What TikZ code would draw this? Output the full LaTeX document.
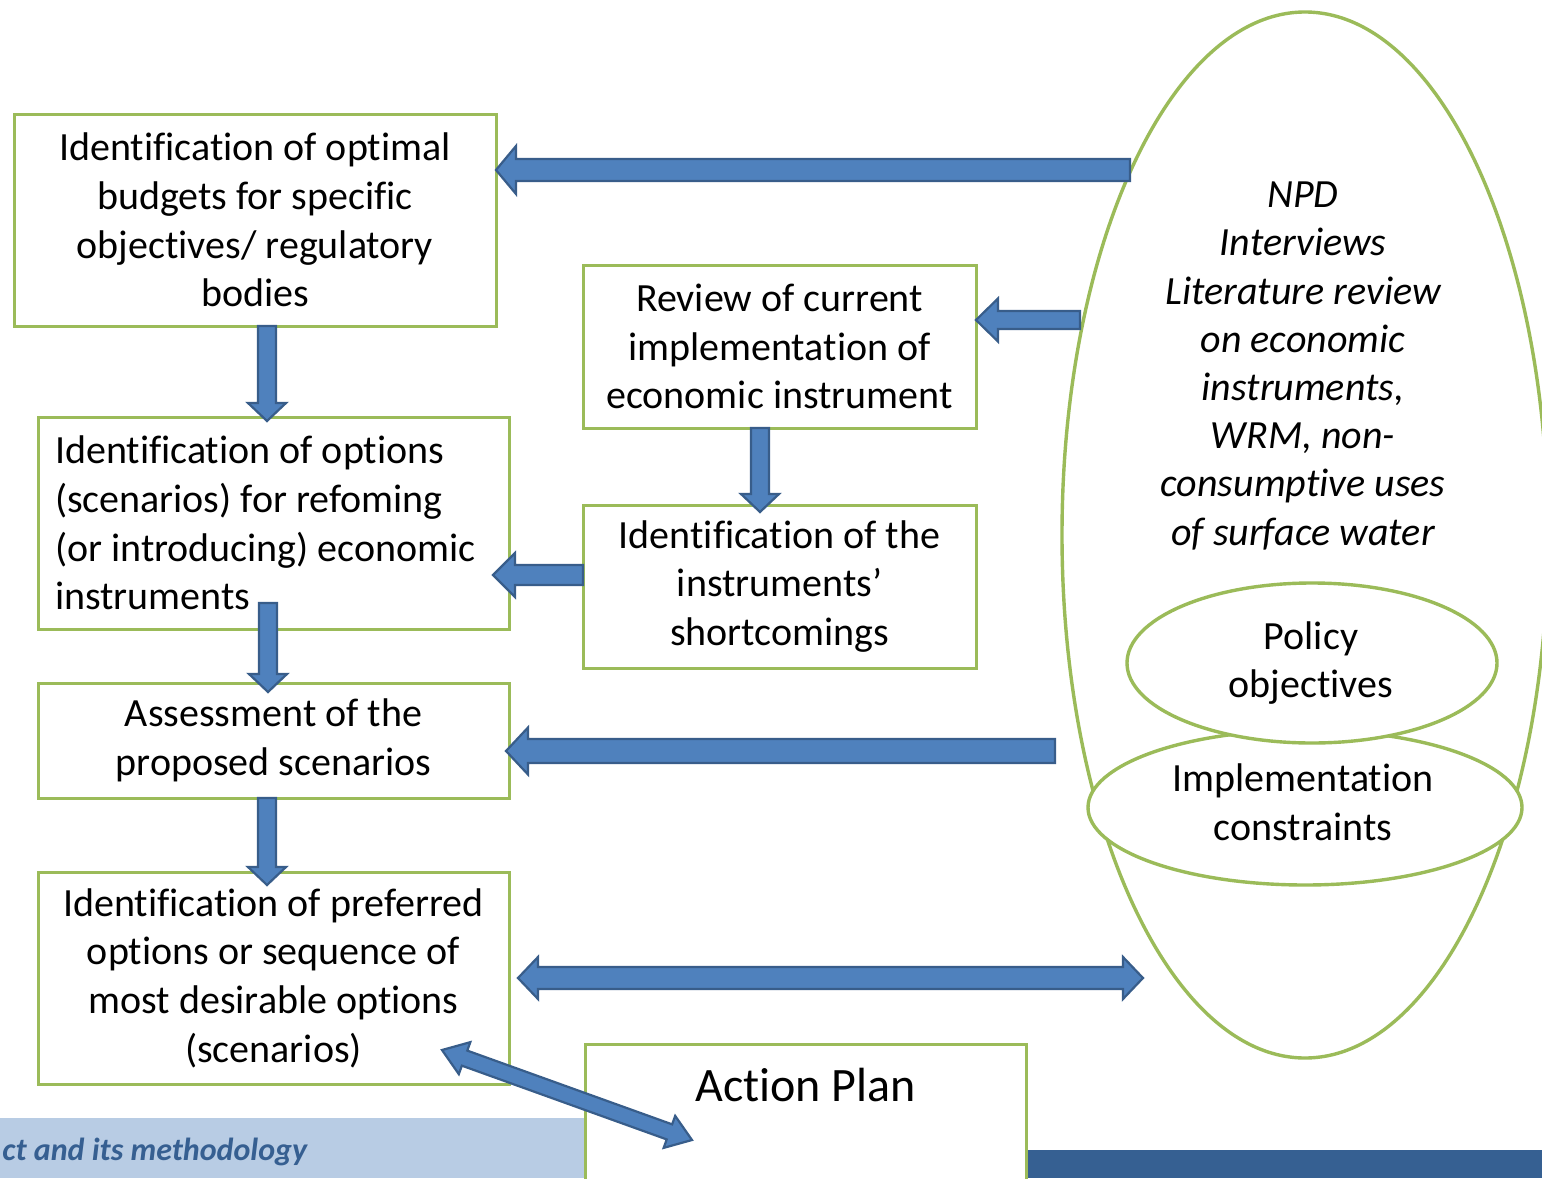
\documentclass[tikz,border=0pt]{standalone}
\usepackage{fontspec}
\setmainfont{Carlito}[Ligatures=NoCommon]
\usetikzlibrary{calc,shapes.geometric}

\definecolor{boxgreen}{HTML}{9BBB59}
\definecolor{arrowfill}{HTML}{4F81BD}
\definecolor{arrowline}{HTML}{385D8A}
\definecolor{barlight}{HTML}{B8CCE4}
\definecolor{bardark}{HTML}{366092}
\definecolor{bartext}{HTML}{365F91}

% block arrow: from, to, shaft half width, head half width, head length
\newcommand\blockarrow[5]{%
  \coordinate (hbB) at ($(#2)!#5!(#1)$);
  \filldraw[blockarrow] ($(#1)!#3!90:(#2)$) -- ($(hbB)!#3!90:(#2)$)
    -- ($(hbB)!#4!90:(#2)$) -- (#2) -- ($(hbB)!#4!-90:(#2)$)
    -- ($(hbB)!#3!-90:(#2)$) -- ($(#1)!#3!-90:(#2)$) -- cycle;}
% double-headed block arrow with the same arguments
\newcommand\doubleblockarrow[5]{%
  \coordinate (hbA) at ($(#1)!#5!(#2)$);
  \coordinate (hbB) at ($(#2)!#5!(#1)$);
  \filldraw[blockarrow] (#1) -- ($(hbA)!#4!90:(#2)$) -- ($(hbA)!#3!90:(#2)$)
    -- ($(hbB)!#3!90:(#2)$) -- ($(hbB)!#4!90:(#2)$) -- (#2)
    -- ($(hbB)!#4!-90:(#2)$) -- ($(hbB)!#3!-90:(#2)$)
    -- ($(hbA)!#3!-90:(#2)$) -- ($(hbA)!#4!-90:(#2)$) -- cycle;}

\begin{document}
\begin{tikzpicture}[x=0.5pt,y=-0.5pt,
  stepbox/.style={draw=boxgreen, line width=1.5pt, fill=white, inner sep=0pt,
    outer sep=0pt, align=center, font=\fontsize{20}{24.3}\selectfont},
  ring/.style={draw=boxgreen, line width=1.7pt, ellipse, inner sep=0pt, outer sep=0pt},
  blockarrow/.style={fill=arrowfill, draw=arrowline, line width=1.1pt, line join=miter}]
\clip (0,0) rectangle (1542,1178);
\fill[white] (0,0) rectangle (1542,1178);

% footer bars
\fill[barlight] (0,1118) rectangle (585,1178);
\fill[bardark] (1026,1150) rectangle (1542,1178);
\node[anchor=west, text=bartext, inner sep=0pt,
  font=\bfseries\itshape\fontsize{16}{19}\selectfont] (footer) at (2,1152) {ct and its methodology};

% sources
\node[ring, minimum width=243pt, minimum height=523pt] (src) at (1305,535) {};
\node[align=center, font=\itshape\fontsize{20}{24.1}\selectfont] (srctext) at (1303,366)
  {NPD\\Interviews\\Literature review\\on economic\\instruments,\\WRM, non-\\consumptive uses\\of surface water};

% process boxes
\node[stepbox, minimum width=241pt, minimum height=106pt] (box1) at (255,220)
  {Identification of optimal\\budgets for specific\\objectives/ regulatory\\bodies};
\node[stepbox, minimum width=235.5pt, minimum height=106pt, text width=218.5pt, align=flush left] (box2) at (273.5,523)
  {Identification of options\\(scenarios) for refoming\\(or introducing) economic\\instruments};
\node[stepbox, minimum width=235.5pt, minimum height=57.5pt] (box3) at (273.5,740.5)
  {Assessment of the\\proposed scenarios};
\node[stepbox, minimum width=235.5pt, minimum height=106pt] (box4) at (273.5,978)
  {Identification of preferred\\options or sequence of\\most desirable options\\(scenarios)};
\node[stepbox, minimum width=196.5pt, minimum height=81.5pt] (box5) at (779.5,346.5)
  {Review of current\\implementation of\\economic instrument};
\node[stepbox, minimum width=196.5pt, minimum height=81.5pt] (box6) at (779.5,586.5)
  {Identification of the\\instruments’\\shortcomings};
\node[stepbox, minimum width=220.5pt, minimum height=80pt, anchor=north] (action) at (805.5,1044) {};
\node[font=\fontsize{24}{28}\selectfont, inner sep=0pt] (actiontext) at (805.5,1085) {Action Plan};

% arrow end points
\coordinate (a1s) at (1130,170);   \coordinate (a1e) at (box1.east |- a1s);
\coordinate (a2s) at (1080,320);   \coordinate (a2e) at (box5.east |- a2s);
\coordinate (a3s) at (267,326);    \coordinate (a3e) at (267,421);
\coordinate (a4s) at (760,428);    \coordinate (a4e) at (760,512);
\coordinate (a5s) at (box6.west |- 0,575); \coordinate (a5e) at (493,575);
\coordinate (a6s) at (268,603);    \coordinate (a6e) at (268,692);
\coordinate (a7s) at (267,798);    \coordinate (a7e) at (267,885);
\coordinate (a8s) at (1055,751);   \coordinate (a8e) at (506,751);
\coordinate (a9s) at (518,978);    \coordinate (a9e) at (1143,978);
\coordinate (a10s) at (442,1050);  \coordinate (a10e) at (692,1140);

\blockarrow{a1s}{a1e}{5.5pt}{12pt}{10pt}
\blockarrow{a2s}{a2e}{4.5pt}{10.75pt}{11pt}
\blockarrow{a3s}{a3e}{4.5pt}{9.5pt}{9pt}
\blockarrow{a4s}{a4e}{4.5pt}{9.5pt}{9pt}
\blockarrow{a5s}{a5e}{5pt}{11pt}{11pt}
\blockarrow{a6s}{a6e}{4.5pt}{9.5pt}{9pt}
\blockarrow{a7s}{a7e}{4.5pt}{9.5pt}{9pt}
\blockarrow{a8s}{a8e}{6pt}{11.75pt}{11pt}
\doubleblockarrow{a9s}{a9e}{5.5pt}{10.5pt}{10pt}
\doubleblockarrow{a10s}{a10e}{4pt}{8.5pt}{12pt}

% policy rings, white-filled over the source ellipse
\node[ring, fill=white, minimum width=217pt, minimum height=77.5pt] (impl) at (1305,807.5) {};
\node[ring, fill=white, minimum width=185pt, minimum height=80pt] (policy) at (1312,663) {};
\node[align=center, font=\fontsize{20}{24.3}\selectfont] (policytext) at (1311,663) {Policy\\objectives};
\node[align=center, font=\fontsize{20}{24.3}\selectfont] (impltext) at (1303,802.5) {Implementation\\constraints};
\end{tikzpicture}
\end{document}
